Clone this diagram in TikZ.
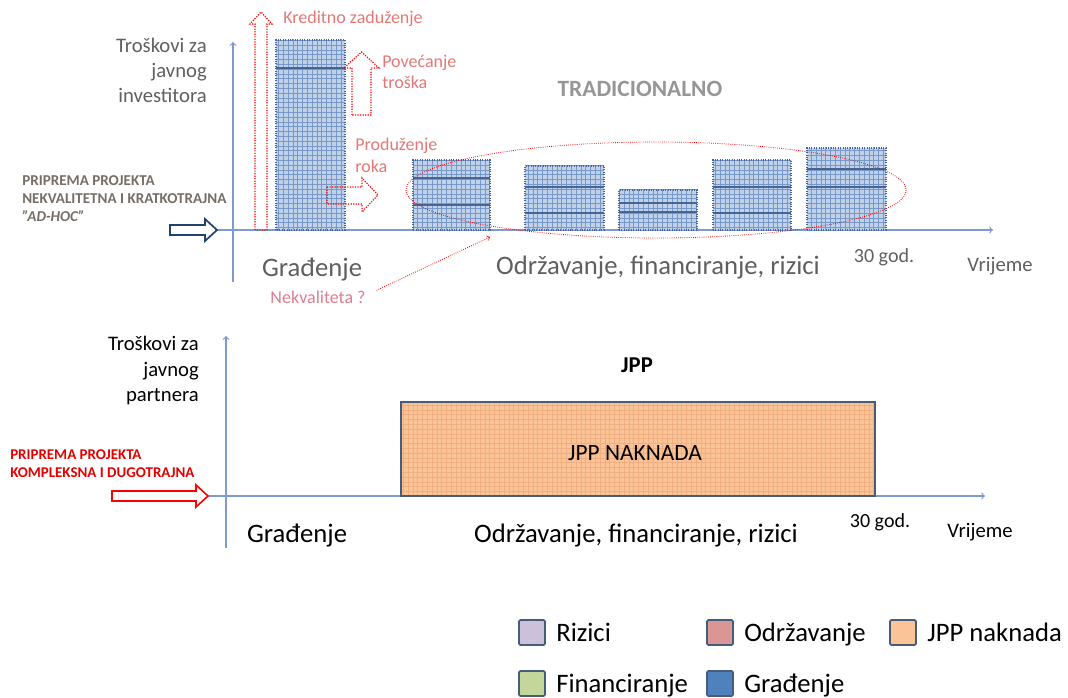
\documentclass[tikz,border=0pt]{standalone}
\usepackage{fontspec}
\setmainfont{Carlito}
\usepackage{tikz}
\usetikzlibrary{patterns}
\definecolor{axisblue}{RGB}{125,155,205}
\definecolor{barfill}{RGB}{192,210,234}
\definecolor{bargrid}{RGB}{120,152,200}
\definecolor{baredge}{RGB}{70,100,150}
\definecolor{labred}{RGB}{228,120,118}
\definecolor{labpink}{RGB}{222,125,145}
\definecolor{txtgrey}{RGB}{95,95,95}
\definecolor{ltgrey}{RGB}{150,150,150}
\definecolor{prepgrey}{RGB}{118,110,102}
\definecolor{arrowblue}{RGB}{35,65,110}
\definecolor{jppfill}{RGB}{250,196,150}
\definecolor{jppgrid}{RGB}{240,175,130}
\definecolor{legedge}{RGB}{70,92,125}
\definecolor{rizcol}{RGB}{204,193,218}
\definecolor{odrcol}{RGB}{217,150,148}
\definecolor{fincol}{RGB}{196,215,155}
\definecolor{gracol}{RGB}{79,129,189}
\pgfdeclarepatternformonly{costgrid}{\pgfqpoint{-1pt}{-1pt}}{\pgfqpoint{4.6pt}{4.6pt}}{\pgfqpoint{3.6pt}{3.6pt}}{
  \pgfsetlinewidth{0.45pt}
  \pgfpathmoveto{\pgfqpoint{0pt}{0pt}}\pgfpathlineto{\pgfqpoint{0pt}{3.7pt}}
  \pgfpathmoveto{\pgfqpoint{0pt}{0pt}}\pgfpathlineto{\pgfqpoint{3.7pt}{0pt}}
  \pgfusepath{stroke}}

\begin{document}
\begin{tikzpicture}[x=0.75pt, y=-0.75pt,
  axisline/.style={draw=axisblue, line width=0.9pt, ->},
  costbar/.style={preaction={fill=barfill}, preaction={pattern=costgrid, pattern color=bargrid}, draw=baredge, densely dotted, line width=0.8pt},
  sepline/.style={draw=baredge, line width=1.2pt},
  hollowred/.style={draw=red, densely dotted, line width=0.9pt, line join=miter},
  dotred/.style={draw=red, densely dotted, line width=0.6pt},
  jppbox/.style={preaction={fill=jppfill}, preaction={pattern=costgrid, pattern color=jppgrid}, draw=legedge, line width=1.4pt},
  legbox/.style={draw=legedge, line width=1.3pt, rounded corners=1pt},
  legtext/.style={anchor=base west, inner sep=0, font=\fontsize{20}{24}\selectfont},
  bigtext/.style={inner sep=0, font=\fontsize{20}{24}\selectfont},
  redlab/.style={inner sep=0, text=labred, font=\fontsize{13.5}{16}\selectfont}]
\useasboundingbox (0,0) rectangle (1068,698);

%\draw[help lines] (0,0) grid (1068,698);
\draw[axisline] (233,282) -- (233,42);
\draw[axisline] (217,230) -- (993,230);
\draw[draw=arrowblue, fill=white, line width=1.3pt] (170,225) -- (205,225) -- (205,219) -- (217,230) -- (205,241) -- (205,235) -- (170,235) -- cycle;

\draw[costbar] (276,230) rectangle (345,40);
\draw[sepline] (276,68) -- (345,68);
\draw[costbar] (413,230) rectangle (490,160);
\draw[sepline] (413,178) -- (490,178);
\draw[sepline] (413,205) -- (490,205);
\draw[costbar] (525,230) rectangle (604,166);
\draw[sepline] (525,187) -- (604,187);
\draw[sepline] (525,213) -- (604,213);
\draw[costbar] (619,230) rectangle (697,190);
\draw[sepline] (619,203) -- (697,203);
\draw[sepline] (619,212) -- (697,212);
\draw[costbar] (713,230) rectangle (791,160);
\draw[sepline] (713,187) -- (791,187);
\draw[sepline] (713,213) -- (791,213);
\draw[costbar] (807,230) rectangle (886,148);
\draw[sepline] (807,169) -- (886,169);
\draw[sepline] (807,187) -- (886,187);

\draw[hollowred] (255,230) -- (255,24) -- (250,24) -- (261,12) -- (272,24) -- (267,24) -- (267,230) -- cycle;
\draw[hollowred] (352,115) -- (352,68) -- (344,68) -- (361.5,52) -- (379,68) -- (371,68) -- (371,115) -- cycle;
\draw[hollowred] (327,187) -- (362,187) -- (362,178) -- (378,195) -- (362,212) -- (362,204) -- (327,204) -- cycle;
\draw[dotred] (656,190) ellipse [x radius=250, y radius=48];

\node[anchor=east, align=right, inner sep=0, text=txtgrey, font=\fontsize{15.5}{18.8}\selectfont] (invest) at (207,70) {Troškovi za\\javnog\\investitora};
\node[inner sep=0, text=ltgrey, font=\bfseries\fontsize{17.5}{20}\selectfont] (tradic) at (640,89) {TRADICIONALNO};
\node[redlab, anchor=west] (kredit) at (283,19) {Kreditno zaduženje};
\node[redlab, anchor=west, align=left, font=\fontsize{13.5}{15.8}\selectfont] (povec) at (382,71.5) {Povećanje\\troška};
\node[redlab, anchor=west, align=left, font=\fontsize{13.5}{16.5}\selectfont] (produz) at (355,155) {Produženje\\roka};
\node[anchor=west, align=left, inner sep=0, text=prepgrey, font=\bfseries\fontsize{11.3}{13.5}\selectfont] (prepA) at (22,199) {PRIPREMA PROJEKTA\\NEKVALITETNA I KRATKOTRAJNA\\\textit{"AD-HOC"}};
\node[bigtext, text=txtgrey] (gradA) at (312,270) {Građenje};
\node[bigtext, text=txtgrey] (odrzA) at (658,268) {Održavanje, financiranje, rizici};
\node[inner sep=0, text=txtgrey, font=\fontsize{15}{18}\selectfont] (godA) at (884,257) {30 god.};
\node[inner sep=0, text=txtgrey, font=\fontsize{15.5}{18}\selectfont] (vrijA) at (1000,266) {Vrijeme};
\node[redlab, text=labpink] (nekv) at (318,297) {Nekvaliteta ?};
\coordinate (nekvtip) at (490,237);
\draw[dotred, ->] ([xshift=8pt, yshift=5pt]nekv.east) -- (nekvtip);

\draw[axisline] (226,548) -- (226,336);
\draw[axisline] (208,496) -- (985,496);
\draw[draw=red, fill=white, line width=1.2pt] (112,491) -- (196,491) -- (196,485) -- (208,496) -- (196,507) -- (196,501) -- (112,501) -- cycle;
\draw[jppbox] (401,496) rectangle (875,402);

\node[anchor=east, align=right, inner sep=0, font=\fontsize{15.5}{18.8}\selectfont] (partner) at (199,370.5) {Troškovi za\\javnog\\partnera};
\node[inner sep=0, font=\bfseries\fontsize{17}{20}\selectfont] (jpp) at (637,365) {JPP};
\node[anchor=west, align=left, inner sep=0, text=red!90!black, font=\bfseries\fontsize{11.2}{13.5}\selectfont] (prepB) at (10,464) {PRIPREMA PROJEKTA\\KOMPLEKSNA I DUGOTRAJNA};
\node[inner sep=0, font=\fontsize{17.5}{20}\selectfont] (jppfee) at (635,453) {JPP NAKNADA};
\node[bigtext] (gradB) at (297,536) {Građenje};
\node[bigtext] (odrzB) at (636,536) {Održavanje, financiranje, rizici};
\node[inner sep=0, font=\fontsize{15}{18}\selectfont] (godB) at (880,522) {30 god.};
\node[inner sep=0, font=\fontsize{15.5}{18}\selectfont] (vrijB) at (980,532) {Vrijeme};

\draw[legbox, fill=rizcol] (519,620) rectangle (545,645);
\node[legtext] (lriz) at (556,641) {Rizici};
\draw[legbox, fill=odrcol] (707,620) rectangle (733,645);
\node[legtext] (lodr) at (744,641) {Održavanje};
\draw[legbox, fill=jppfill] (890,620) rectangle (916,645);
\node[legtext] (ljpp) at (927,641) {JPP naknada};
\draw[legbox, fill=fincol] (519,671) rectangle (545,696);
\node[legtext] (lfin) at (556,692) {Financiranje};
\draw[legbox, fill=gracol] (707,671) rectangle (733,696);
\node[legtext] (lgra) at (744,692) {Građenje};
\end{tikzpicture}
\end{document}
